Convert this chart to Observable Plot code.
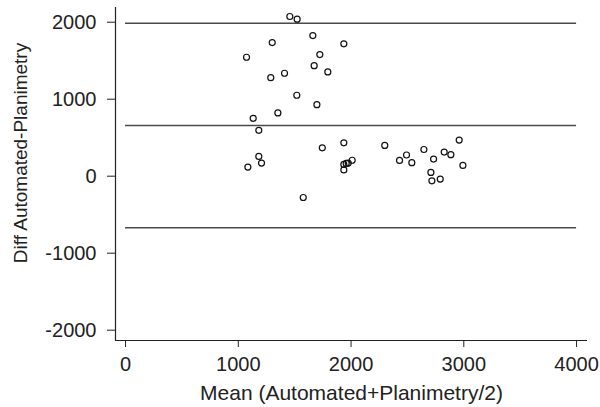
<!DOCTYPE html>
<html>
<head>
<meta charset="utf-8">
<script src="https://cdn.jsdelivr.net/npm/d3@7"></script>
<script src="https://cdn.jsdelivr.net/npm/@observablehq/plot@0.6"></script>
<style>
  html, body { margin: 0; padding: 0; background: #fff; }
  #chart { width: 600px; height: 407px; }
</style>
</head>
<body>
<div id="chart"></div>
<script>
// Bland–Altman data: mean of methods vs difference
const means = [1457, 1522, 1661, 1301, 1936, 1073, 1723, 1673, 1794, 1410,
               1288, 1519, 1697, 1351, 1132, 1182, 1745, 1936, 2299, 1182,
               1206, 1085, 1936, 1957, 1975, 2010, 1936, 1576, 2430, 2492,
               2539, 2646, 2732, 2708, 2717, 2791, 2826, 2885, 2959, 2992];
const diffs = [2074, 2039, 1826, 1736, 1719, 1545, 1580, 1436, 1354, 1337,
               1280, 1051, 929, 822, 752, 596, 368, 434, 400, 257,
               170, 118, 153, 166, 170, 207, 81, -277, 205, 275,
               175, 347, 222, 49, -60, -38, 313, 279, 469, 140];
const refLines = [1987, 658, -670];   // upper limit, mean difference, lower limit
const xTicks = [0, 1000, 2000, 3000, 4000];
const yTicks = [-2000, -1000, 0, 1000, 2000];
const xDomain = [-89, 4097];
const yDomain = [-2134, 2191];
const xLabel = "Mean (Automated+Planimetry/2)";
const yLabel = "Diff Automated-Planimetry";

const points = means.map((m, i) => ({mean: m, diff: diffs[i]}));

const chart = Plot.plot({
  width: 600,
  height: 407,
  marginLeft: 115,
  marginRight: 13,
  marginTop: 7,
  marginBottom: 67,
  style: {fontFamily: "'Liberation Sans', Arial, sans-serif", fontSize: "20px", color: "#222", background: "#fff"},
  x: {domain: xDomain},
  y: {domain: yDomain},
  marks: [
    Plot.ruleY(refLines, {x1: 0, x2: 4000, stroke: "#4a4a4a", strokeWidth: 1.4}),
    Plot.ruleX([xDomain[0]], {stroke: "#222", strokeWidth: 1.2}),
    Plot.ruleY([yDomain[0]], {stroke: "#222", strokeWidth: 1.2}),
    Plot.axisX({ticks: xTicks, tickSize: 7, tickPadding: 9, tickFormat: d => String(d),
      label: null, fontSize: 20, stroke: "#222"}),
    Plot.axisY({ticks: yTicks, tickSize: 8, tickPadding: 11, tickFormat: d => String(d),
      label: null, fontSize: 20, stroke: "#222"}),
    Plot.text([xLabel], {frameAnchor: "bottom", dy: 53, fontSize: 21, fill: "#222", lineAnchor: "middle"}),
    Plot.text([yLabel], {frameAnchor: "left", rotate: -90, dx: -95, dy: -21, fontSize: 19, fill: "#222",
      textAnchor: "middle", lineAnchor: "middle"}),
    Plot.dot(points, {x: "mean", y: "diff", r: 3, stroke: "#111", strokeWidth: 1.2, fill: "none"})
  ]
});
document.getElementById("chart").appendChild(chart);
</script>
</body>
</html>
